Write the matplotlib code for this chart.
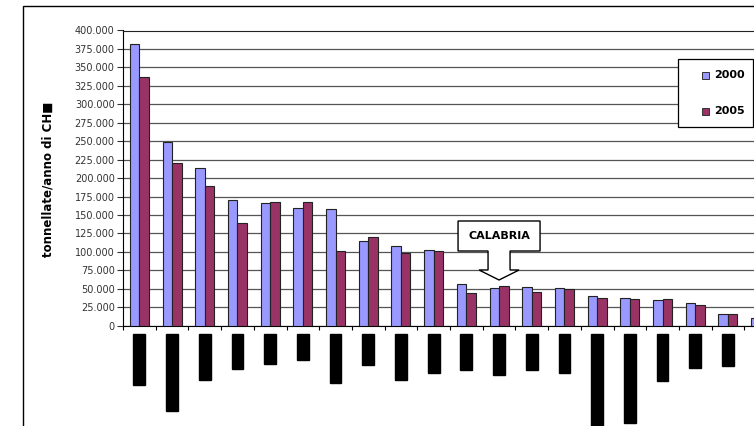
import matplotlib
matplotlib.use("Agg")
import matplotlib.pyplot as plt
import numpy as np
from matplotlib.patches import Rectangle, Polygon
from matplotlib.ticker import FuncFormatter, MultipleLocator

regions = ["Lombardia", "Emilia-Romagna", "Piemonte", "Veneto", "Sicilia", "Lazio",
           "Campania", "Puglia", "Sardegna", "Toscana", "Marche", "Calabria",
           "Umbria", "Abruzzo", "Friuli-Venezia Giulia", "Trentino-Alto Adige",
           "Basilicata", "Liguria", "Molise", "Valle d'Aosta"]
v2000 = [381600, 249500, 213400, 170400, 166000, 160000, 158600, 114800, 107700, 103000,
         56100, 51500, 52000, 50700, 39900, 37600, 34800, 30400, 15500, 10000]
v2005 = [336800, 220200, 189400, 139700, 167300, 167300, 101700, 120700, 99000, 100900,
         44700, 53800, 46100, 49800, 37600, 36200, 36200, 28100, 15500, 9000]
series_labels = ["2000", "2005"]
series_colors = ["#9999FF", "#993366"]
ylabel = "tonnellate/anno di CH\u25a0"
callout = "CALABRIA"
callout_region = "Calabria"

W, H = 754, 426
fig = plt.figure(figsize=(W / 100, H / 100), dpi=100)
fig.patch.set_facecolor("white")

def fx(px):
    return px / W

def fy(py):
    return 1 - py / H

# outer chart border
fig.patches.append(Rectangle((fx(23), -0.2), 2.0, 1.2 - 6 / H, transform=fig.transFigure,
                             fill=False, edgecolor="black", linewidth=1.0, zorder=0))

ax_left, ax_right = 123, 777
ax_top, ax_bot = 30.5, 325.7
ax = fig.add_axes([fx(ax_left), fy(ax_bot), (ax_right - ax_left) / W, (ax_bot - ax_top) / H])
ax.set_facecolor("none")

x = np.arange(len(regions))
bw = 0.29
ax.bar(x - bw / 2, v2000, bw, color=series_colors[0], edgecolor="#222222", linewidth=0.8, zorder=3)
ax.bar(x + bw / 2, v2005, bw, color=series_colors[1], edgecolor="#222222", linewidth=0.8, zorder=3)

ax.set_xlim(-0.5, len(regions) - 0.5)
ax.set_ylim(0, 400000)
ax.yaxis.set_major_locator(MultipleLocator(25000))
ax.yaxis.set_major_formatter(FuncFormatter(lambda v, p: "0" if v == 0 else f"{int(v):,}".replace(",", ".")))
ax.grid(axis="y", color="#555555", linewidth=0.9, zorder=0)
ax.set_axisbelow(True)
ax.spines["right"].set_visible(False)
ax.spines["top"].set_color("#222222")
ax.spines["left"].set_color("black")
ax.spines["bottom"].set_color("black")
ax.tick_params(axis="y", labelsize=7, length=4, width=0.8, colors="#333333", pad=2)
ax.set_xticks(np.arange(len(regions) + 1) - 0.5)
ax.set_xticklabels([])
ax.tick_params(axis="x", length=3, width=0.8, direction="out")

# category labels (rendered as dark blocks like the reference)
for i, r in enumerate(regions):
    ax.annotate(r, xy=(i, 0), xycoords="data", xytext=(0, -10), textcoords="offset pixels",
                rotation=90, ha="center", va="top", fontsize=6.5, color="black",
                bbox=dict(boxstyle="square,pad=0.15", facecolor="black", edgecolor="black"),
                annotation_clip=False)

fig.text(fx(48), fy(179), ylabel, rotation=90, ha="center", va="center",
         fontsize=8.5, fontweight="bold", family="DejaVu Sans")

# legend (drawn manually to match the box)
fig.patches.append(Rectangle((fx(678), fy(127)), (753 - 678) / W, (127 - 59) / H,
                             transform=fig.transFigure, facecolor="white", edgecolor="black",
                             linewidth=0.9, zorder=5))
for k, (lab, col) in enumerate(zip(series_labels, series_colors)):
    yc = 75 + k * 36
    fig.patches.append(Rectangle((fx(702), fy(yc + 3.5)), 7 / W, 7 / H, transform=fig.transFigure,
                                 facecolor=col, edgecolor="#333333", linewidth=0.7, zorder=6))
    fig.text(fx(714), fy(yc), lab, ha="left", va="center", fontsize=8, fontweight="bold", zorder=6)

# callout arrow for Calabria
fig.canvas.draw()
ci = regions.index(callout_region)
tipx, tipy = ax.transData.transform((ci, max(v2000[ci], v2005[ci])))
tx, ty = tipx, H - tipy
ty_tip = ty - 6
pts = [(tx - 41, ty_tip - 59), (tx + 41, ty_tip - 59), (tx + 41, ty_tip - 29), (tx + 11, ty_tip - 29),
       (tx + 11, ty_tip - 10), (tx + 20, ty_tip - 10), (tx, ty_tip), (tx - 20, ty_tip - 10),
       (tx - 11, ty_tip - 10), (tx - 11, ty_tip - 29), (tx - 41, ty_tip - 29)]
pts = [(fx(px), fy(py)) for px, py in pts]
fig.patches.append(Polygon(pts, closed=True, transform=fig.transFigure, facecolor="white",
                           edgecolor="black", linewidth=1.0, zorder=5))
fig.text(fx(tx), fy(ty_tip - 44), callout, ha="center", va="center", fontsize=8,
         fontweight="bold", zorder=6)

fig.savefig("out.png", dpi=100)
